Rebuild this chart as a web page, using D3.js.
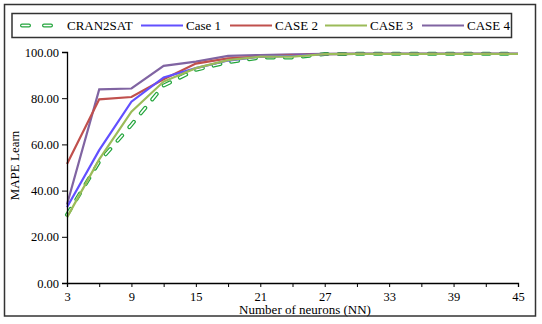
<!DOCTYPE html>
<html>
<head>
<meta charset="utf-8">
<script src="https://cdn.jsdelivr.net/npm/d3@7"></script>
<style>
  body { margin: 0; background: #fff; }
  svg text { font-family: "Liberation Serif", "Times New Roman", serif; fill: #000; }
</style>
</head>
<body>
<div id="chart"></div>
<script>
const neurons = [3, 6, 9, 12, 15, 18, 21, 24, 27, 30, 33, 36, 39, 42, 45];
const cran2sat = [29.5, 52.5, 68.5, 85.5, 92.3, 95.6, 97.6, 97.6, 99.1, 99.2, 99.2, 99.2, 99.2, 99.2, 99.2];
const case1 = [32.8, 57.5, 78.5, 89.0, 93.0, 96.3, 98.0, 98.3, 99.1, 99.2, 99.2, 99.2, 99.2, 99.2, 99.2];
const case2 = [51.5, 79.5, 80.5, 88.2, 95.0, 97.2, 98.0, 98.5, 99.1, 99.2, 99.2, 99.2, 99.2, 99.2, 99.2];
const case3 = [28.4, 53.5, 74.2, 87.2, 93.0, 96.5, 98.0, 98.0, 99.1, 99.2, 99.2, 99.2, 99.2, 99.2, 99.2];
const case4 = [34.0, 83.8, 84.2, 94.0, 95.8, 98.3, 98.7, 99.0, 99.2, 99.2, 99.2, 99.2, 99.2, 99.2, 99.2];
const yTicks = [0, 20, 40, 60, 80, 100];
const xLabelTicks = [3, 9, 15, 21, 27, 33, 39, 45];

const width = 542, height = 324;
const margin = { left: 67, right: 24, top: 52, bottom: 41 };
const innerWidth = width - margin.left - margin.right;
const innerHeight = height - margin.top - margin.bottom;

const series = [
  { name: "CRAN2SAT", values: cran2sat, color: "#23a53c", dashed: true },
  { name: "Case 1", values: case1, color: "#6250ff" },
  { name: "CASE 2", values: case2, color: "#c0504d" },
  { name: "CASE 3", values: case3, color: "#9bbb59" },
  { name: "CASE 4", values: case4, color: "#8064a2" }
];

const svg = d3.select("#chart").append("svg")
  .attr("width", width)
  .attr("height", height)
  .attr("font-family", "'Liberation Serif', serif");

// outer frame
svg.append("rect")
  .attr("x", 4.5).attr("y", 4.5)
  .attr("width", 531).attr("height", 311.5)
  .attr("fill", "#fff")
  .attr("stroke", "#333")
  .attr("stroke-width", 1.5);

const inner = svg.append("g")
  .attr("transform", `translate(${margin.left},${margin.top})`);

const xScale = d3.scaleLinear().domain([3, 45]).range([0, innerWidth]);
const yScale = d3.scaleLinear().domain([0, 100]).range([innerHeight, 0]);

const line = d3.line()
  .x((d, i) => xScale(neurons[i]))
  .y(d => yScale(d));

// outlined dashes: thick green dash with a thin white core
function drawDashed(g, d, dash) {
  g.append("path").attr("d", d)
    .attr("fill", "none").attr("stroke", "#23a53c")
    .attr("stroke-width", 4).attr("stroke-linecap", "round")
    .attr("stroke-dasharray", dash);
  g.append("path").attr("d", d)
    .attr("fill", "none").attr("stroke", "#fff")
    .attr("stroke-width", 1.6).attr("stroke-linecap", "round")
    .attr("stroke-dasharray", dash);
}

drawDashed(inner, line(cran2sat), "7 11");
[series[4], series[2], series[1], series[3]].forEach(s => {
  inner.append("path")
    .attr("d", line(s.values))
    .attr("fill", "none")
    .attr("stroke", s.color)
    .attr("stroke-width", 2.2);
});

// axes
const yAxis = inner.append("g")
  .attr("font-family", null)
  .call(d3.axisLeft(yScale).tickValues(yTicks).tickSize(5).tickFormat(d3.format(".2f")));
yAxis.attr("font-family", null).attr("font-size", null);
yAxis.select(".domain").attr("stroke-width", 1.3);
yAxis.selectAll("text").attr("font-size", "12.5px").attr("x", -8);

const xAxis = inner.append("g")
  .attr("transform", `translate(0,${innerHeight})`)
  .call(d3.axisBottom(xScale).tickValues(neurons).tickSize(4)
    .tickFormat(d => xLabelTicks.includes(d) ? d : ""));
xAxis.attr("font-family", null).attr("font-size", null);
xAxis.select(".domain").attr("stroke-width", 1.3);
xAxis.selectAll("text").attr("font-size", "12.5px").attr("y", 9.5);

// axis titles
inner.append("text")
  .attr("transform", "rotate(-90)")
  .attr("x", -innerHeight / 2 + 2)
  .attr("y", -48)
  .attr("text-anchor", "middle")
  .attr("font-size", "13px")
  .text("MAPE Learn");

inner.append("text")
  .attr("x", 238)
  .attr("y", innerHeight + 30.5)
  .attr("text-anchor", "middle")
  .attr("font-size", "13px")
  .text("Number of neurons (NN)");

// legend
const legend = svg.append("g");
legend.append("rect")
  .attr("x", 12).attr("y", 13.5)
  .attr("width", 499.5).attr("height", 24)
  .attr("fill", "#fff")
  .attr("stroke", "#333").attr("stroke-width", 1.5);

const legendX = [20, 141, 230, 325, 422];
series.forEach((s, i) => {
  const x0 = legendX[i];
  const g = legend.append("g");
  if (s.dashed) {
    drawDashed(g, `M${x0 + 2},25.5L${x0 + 34},25.5`, "7 15");
  } else {
    g.append("line")
      .attr("x1", x0).attr("x2", x0 + 42)
      .attr("y1", 25.5).attr("y2", 25.5)
      .attr("stroke", s.color).attr("stroke-width", 2.2);
  }
  g.append("text")
    .attr("x", s.dashed ? x0 + 47 : x0 + 45)
    .attr("y", 30)
    .attr("font-size", "13px")
    .text(s.name);
});
</script>
</body>
</html>
